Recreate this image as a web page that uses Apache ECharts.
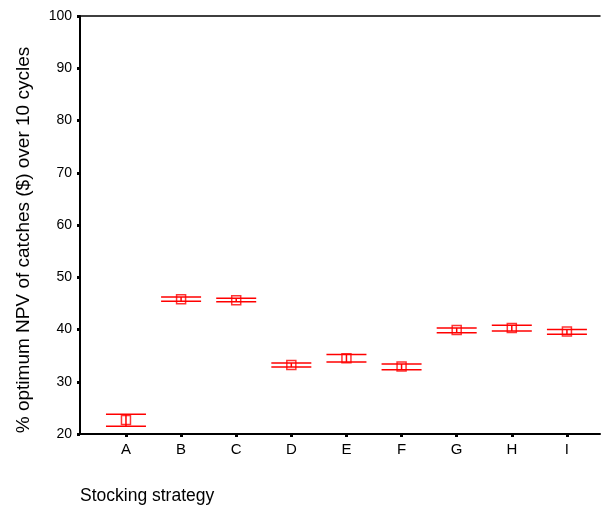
<!DOCTYPE html>
<html>
<head>
<meta charset="utf-8">
<script src="https://cdn.jsdelivr.net/npm/echarts@6/dist/echarts.min.js"></script>
<style>
  html, body { margin: 0; padding: 0; background: #fff; }
  #main { width: 604px; height: 508px; }
</style>
</head>
<body>
<div id="main"></div>
<script>
// 数据
var categories = ['A', 'B', 'C', 'D', 'E', 'F', 'G', 'H', 'I'];
var means = [22.7, 45.8, 45.6, 33.2, 34.5, 32.9, 39.9, 40.3, 39.6];
var upper = [23.8, 46.2, 46.0, 33.6, 35.2, 33.4, 40.3, 40.8, 40.0];
var lower = [21.5, 45.4, 45.3, 32.8, 33.8, 32.3, 39.4, 39.7, 39.1];
var yTicks = [20, 30, 40, 50, 60, 70, 80, 90, 100];

var font = 'Liberation Sans, Arial, sans-serif';
var positions = [];
var barData = [];
var meanData = [];
for (var i = 0; i < categories.length; i++) {
    positions.push(i + 1);
    barData.push([i + 1, lower[i], upper[i]]);
    meanData.push([i + 1, means[i]]);
}

var myChart = echarts.init(document.getElementById('main'));
var option = {
    animation: false,
    backgroundColor: '#fff',
    grid: {
        left: 80,
        right: 4,
        top: 16,
        bottom: 74
    },
    xAxis: [{
        type: 'value',
        min: 0.166,
        max: 9.6,
        splitLine: { show: false },
        axisLine: { lineStyle: { color: '#000', width: 2 } },
        axisTick: {
            customValues: positions,
            length: 3,
            lineStyle: { color: '#000', width: 3 }
        },
        axisLabel: {
            customValues: positions,
            formatter: function (v) { return categories[Math.round(v) - 1]; },
            color: '#000',
            fontSize: 15,
            fontFamily: font,
            margin: 8
        }
    }, {
        type: 'value',
        position: 'top',
        min: 0.166,
        max: 9.6,
        splitLine: { show: false },
        axisLine: { show: true, lineStyle: { color: '#000', width: 1.5 } },
        axisTick: { show: false },
        axisLabel: { show: false }
    }],
    yAxis: {
        type: 'value',
        min: 20,
        max: 100,
        interval: 10,
        splitLine: { show: false },
        axisLine: { show: true, lineStyle: { color: '#000', width: 2 } },
        axisTick: { show: true, length: 3, lineStyle: { color: '#000', width: 3 } },
        axisLabel: {
            color: '#000',
            fontSize: 14,
            fontFamily: font,
            margin: 8,
            formatter: function (v) { return yTicks.indexOf(v) >= 0 ? String(v) : ''; }
        }
    },
    graphic: [{
        type: 'text',
        x: 24,
        y: 240,
        rotation: Math.PI / 2,
        style: {
            text: '% optimum NPV of catches ($) over 10 cycles',
            font: '19px ' + font,
            fill: '#000',
            textAlign: 'center',
            textVerticalAlign: 'middle'
        }
    }, {
        type: 'text',
        left: 80,
        top: 487,
        style: {
            text: 'Stocking strategy',
            font: '17.5px ' + font,
            fill: '#000'
        }
    }],
    series: [{
        type: 'custom',
        data: barData,
        renderItem: function (params, api) {
            var x = api.value(0);
            var lo = api.coord([x, api.value(1)]);
            var hi = api.coord([x, api.value(2)]);
            var hw = 20;
            var st = { stroke: '#ff0000', lineWidth: 1.5 };
            return {
                type: 'group',
                children: [
                    { type: 'line', shape: { x1: hi[0] - hw, y1: hi[1], x2: hi[0] + hw, y2: hi[1] }, style: st },
                    { type: 'line', shape: { x1: lo[0] - hw, y1: lo[1], x2: lo[0] + hw, y2: lo[1] }, style: st },
                    { type: 'line', shape: { x1: hi[0], y1: hi[1], x2: lo[0], y2: lo[1] }, style: st }
                ]
            };
        },
        z: 2
    }, {
        type: 'scatter',
        data: meanData,
        symbol: 'rect',
        symbolSize: 9,
        itemStyle: { color: 'rgba(0,0,0,0)', borderColor: '#ff0000', borderWidth: 1.5 },
        z: 3
    }]
};
myChart.setOption(option);
</script>
</body>
</html>
